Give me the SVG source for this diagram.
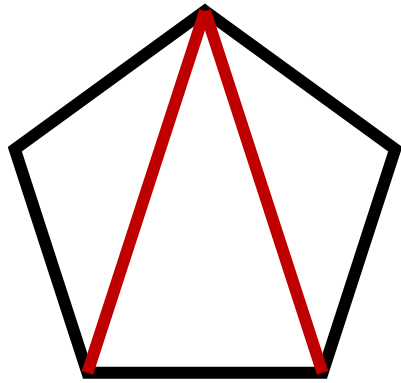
<svg xmlns="http://www.w3.org/2000/svg" width="401" height="383" viewBox="0 0 401 383">
<style>
.pent{fill:none;stroke:#000;stroke-width:12;stroke-linejoin:miter}
.diag{stroke:#c00000;stroke-width:12;stroke-linecap:butt}
</style>
<rect width="401" height="383" fill="#fff"/>
<g id="pentagon">
<polygon class="pent" points="205,11 395.2,149.2 322.6,372.8 87.4,372.8 14.8,149.2"/>
</g>
<g id="connectors">
<line class="diag" x1="205" y1="11" x2="87.4" y2="372.8"/>
<line class="diag" x1="205" y1="11" x2="322.6" y2="372.8"/>
</g>
</svg>
